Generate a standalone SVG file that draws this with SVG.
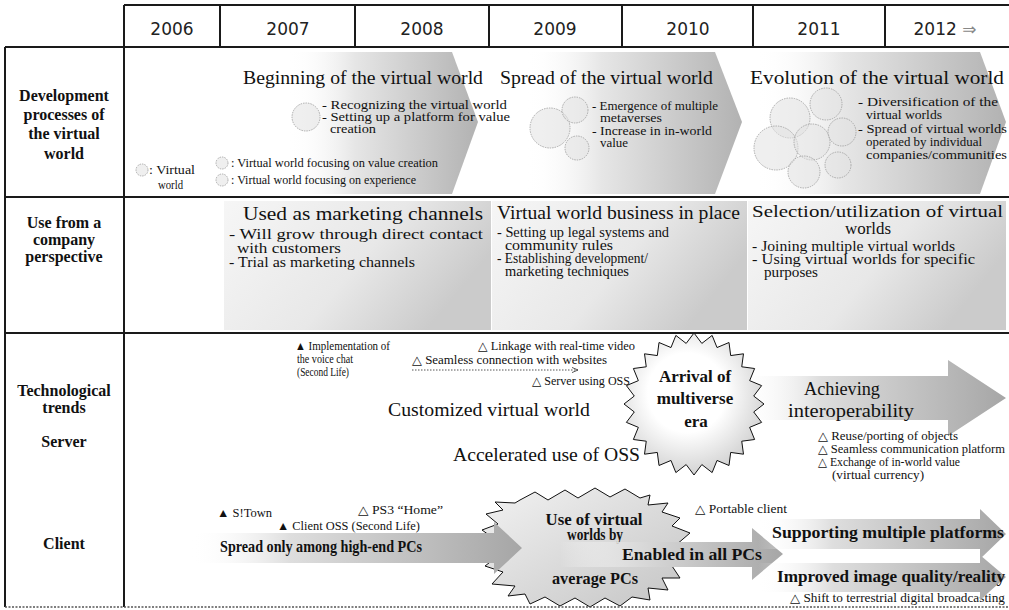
<svg xmlns="http://www.w3.org/2000/svg" width="1009" height="610" viewBox="0 0 1009 610">
<defs>
  <linearGradient id="gChev" x1="0" y1="0" x2="1" y2="0">
    <stop offset="0" stop-color="#ffffff" stop-opacity="0"/>
    <stop offset="0.35" stop-color="#e6e6e6"/>
    <stop offset="1" stop-color="#b2b2b2"/>
  </linearGradient>
  <linearGradient id="gArrow" x1="0" y1="0" x2="1" y2="0">
    <stop offset="0" stop-color="#ffffff" stop-opacity="0"/>
    <stop offset="0.3" stop-color="#dedede"/>
    <stop offset="1" stop-color="#a6a6a6"/>
  </linearGradient>
  <linearGradient id="gBox" x1="0" y1="0" x2="1" y2="0.4">
    <stop offset="0" stop-color="#f6f6f6"/>
    <stop offset="0.6" stop-color="#e8e8e8"/>
    <stop offset="1" stop-color="#cbcbcb"/>
  </linearGradient>
  <radialGradient id="gStar" cx="0.45" cy="0.42" r="0.62">
    <stop offset="0.45" stop-color="#ffffff"/>
    <stop offset="1" stop-color="#cdcdcd"/>
  </radialGradient>
  <linearGradient id="gStar2" x1="0" y1="0" x2="1" y2="1">
    <stop offset="0" stop-color="#f2f2f2"/>
    <stop offset="1" stop-color="#c4c4c4"/>
  </linearGradient>
  <marker id="mTip" viewBox="0 0 8 8" refX="7" refY="4" markerWidth="7" markerHeight="7" orient="auto" markerUnits="userSpaceOnUse">
    <path d="M0,1 L7,4 L0,7" fill="none" stroke="#444" stroke-width="1"/>
  </marker>
</defs>
<style>
  .lbl { font-family: 'Liberation Serif', 'Times New Roman', serif; font-weight: bold; font-size: 16px; text-anchor: middle; fill: #111; }
  .yr { font-family: 'DejaVu Sans', sans-serif; font-size: 17px; text-anchor: middle; fill: #222; }
  .t19 { font-family: 'Liberation Serif', 'Times New Roman', serif; font-size: 19px; fill: #111; }
  .t17 { font-family: 'Liberation Serif', 'Times New Roman', serif; font-size: 17px; fill: #111; }
  .t14 { font-family: 'Liberation Serif', 'Times New Roman', serif; font-size: 14px; fill: #111; }
  .t12 { font-family: 'Liberation Serif', 'DejaVu Sans', serif; font-size: 12px; fill: #111; }
  .t11 { font-family: 'Liberation Serif', 'DejaVu Sans', serif; font-size: 11.5px; fill: #111; }
  .bd { font-family: 'Liberation Serif', 'Times New Roman', serif; font-weight: bold; font-size: 16px; fill: #111; }
  .bd17 { font-family: 'Liberation Serif', 'Times New Roman', serif; font-weight: bold; font-size: 17px; fill: #111; }
  .mid { text-anchor: middle; }
  .grid { stroke: #1a1a1a; stroke-width: 2; fill: none; }
  .bub { fill: #e2e2e2; fill-opacity: 0.55; stroke: #9a9a9a; stroke-width: 0.8; stroke-dasharray: 1.5 1; }
  .chev { fill: url(#gChev); }
  .barrow { fill: url(#gArrow); }
  .box { fill: url(#gBox); }
</style>

<!-- phase chevrons of the first row -->
<g id="phase-beginning">
  <polygon class="chev" points="288,52 452,52 478,122 452,194 288,194"/>
  <text class="t19" x="243" y="84" textLength="240" lengthAdjust="spacingAndGlyphs">Beginning of the virtual world</text>
  <circle class="bub" cx="306" cy="117" r="14"/>
  <text class="t11" x="322" y="109" textLength="185" lengthAdjust="spacingAndGlyphs">- Recognizing the virtual world</text>
  <text class="t11" x="322" y="121" textLength="188" lengthAdjust="spacingAndGlyphs">- Setting up a platform for value</text>
  <text class="t11" x="330" y="133" textLength="46" lengthAdjust="spacingAndGlyphs">creation</text>
</g>
<g id="phase-spread">
  <polygon class="chev" points="526,52 715,52 742,122 715,194 526,194"/>
  <text class="t19" x="500" y="84" textLength="213" lengthAdjust="spacingAndGlyphs">Spread of the virtual world</text>
  <circle class="bub" cx="550" cy="128" r="20"/>
  <circle class="bub" cx="575" cy="110" r="13"/>
  <circle class="bub" cx="577" cy="148" r="12"/>
  <text class="t11" x="592" y="110" textLength="126" lengthAdjust="spacingAndGlyphs">- Emergence of multiple</text>
  <text class="t11" x="600" y="122" textLength="62" lengthAdjust="spacingAndGlyphs">metaverses</text>
  <text class="t11" x="592" y="135" textLength="120" lengthAdjust="spacingAndGlyphs">- Increase in in-world</text>
  <text class="t11" x="600" y="147" textLength="28" lengthAdjust="spacingAndGlyphs">value</text>
</g>
<g id="phase-evolution">
  <polygon class="chev" points="756,52 980,52 1006,122 980,194 756,194"/>
  <text class="t19" x="750" y="84" textLength="254" lengthAdjust="spacingAndGlyphs">Evolution of the virtual world</text>
  <circle class="bub" cx="790" cy="118" r="20"/>
  <circle class="bub" cx="826" cy="104" r="16"/>
  <circle class="bub" cx="776" cy="148" r="22"/>
  <circle class="bub" cx="812" cy="142" r="18"/>
  <circle class="bub" cx="842" cy="132" r="14"/>
  <circle class="bub" cx="804" cy="172" r="16"/>
  <circle class="bub" cx="838" cy="165" r="13"/>
  <text class="t11" x="858" y="106" textLength="140" lengthAdjust="spacingAndGlyphs">- Diversification of the</text>
  <text class="t11" x="866" y="119" textLength="76" lengthAdjust="spacingAndGlyphs">virtual worlds</text>
  <text class="t11" x="858" y="133" textLength="149" lengthAdjust="spacingAndGlyphs">- Spread of virtual worlds</text>
  <text class="t11" x="866" y="146" textLength="116" lengthAdjust="spacingAndGlyphs">operated by individual</text>
  <text class="t11" x="866" y="159" textLength="141" lengthAdjust="spacingAndGlyphs">companies/communities</text>
</g>
<g id="legend">
  <circle class="bub" cx="142" cy="170" r="6"/>
  <text class="t11" x="149" y="174" textLength="46" lengthAdjust="spacingAndGlyphs">: Virtual</text>
  <text class="t11" x="158" y="189" textLength="25" lengthAdjust="spacingAndGlyphs">world</text>
  <circle class="bub" cx="222" cy="163" r="6"/>
  <circle class="bub" cx="222" cy="180" r="6"/>
  <text class="t11" x="231" y="167" textLength="207" lengthAdjust="spacingAndGlyphs">: Virtual world focusing on value creation</text>
  <text class="t11" x="231" y="184" textLength="185" lengthAdjust="spacingAndGlyphs">: Virtual world focusing on experience</text>
</g>

<!-- company-use boxes of the second row -->
<g id="use-marketing">
  <rect class="box" x="224" y="201" width="267" height="129"/>
  <text class="t19" x="243" y="220" textLength="240" lengthAdjust="spacingAndGlyphs">Used as marketing channels</text>
  <text class="t14" x="229" y="239" textLength="254" lengthAdjust="spacingAndGlyphs">- Will grow through direct contact</text>
  <text class="t14" x="237" y="253" textLength="104" lengthAdjust="spacingAndGlyphs">with customers</text>
  <text class="t14" x="229" y="267" textLength="186" lengthAdjust="spacingAndGlyphs">- Trial as marketing channels</text>
</g>
<g id="use-business">
  <rect class="box" x="492" y="201" width="255" height="129"/>
  <text class="t19" x="497" y="219" textLength="243" lengthAdjust="spacingAndGlyphs">Virtual world business in place</text>
  <text class="t14" x="497" y="237" textLength="172" lengthAdjust="spacingAndGlyphs">- Setting up legal systems and</text>
  <text class="t14" x="505" y="250" textLength="108" lengthAdjust="spacingAndGlyphs">community rules</text>
  <text class="t14" x="497" y="263" textLength="151" lengthAdjust="spacingAndGlyphs">- Establishing development/</text>
  <text class="t14" x="505" y="276" textLength="124" lengthAdjust="spacingAndGlyphs">marketing techniques</text>
</g>
<g id="use-selection">
  <rect class="box" x="748" y="201" width="258" height="129"/>
  <text class="t17" x="752" y="217" textLength="251" lengthAdjust="spacingAndGlyphs">Selection/utilization of virtual</text>
  <text class="t17" x="845" y="234" textLength="46" lengthAdjust="spacingAndGlyphs">worlds</text>
  <text class="t14" x="752" y="251" textLength="203" lengthAdjust="spacingAndGlyphs">- Joining multiple virtual worlds</text>
  <text class="t14" x="752" y="264" textLength="223" lengthAdjust="spacingAndGlyphs">- Using virtual worlds for specific</text>
  <text class="t14" x="764" y="277" textLength="54" lengthAdjust="spacingAndGlyphs">purposes</text>
</g>

<!-- server trends -->
<g id="server-notes">
  <text class="t12" x="295" y="350" textLength="95" lengthAdjust="spacingAndGlyphs">▲ Implementation of</text>
  <text class="t12" x="297" y="363" textLength="56" lengthAdjust="spacingAndGlyphs">the voice chat</text>
  <text class="t12" x="297" y="376" textLength="52" lengthAdjust="spacingAndGlyphs">(Second Life)</text>
  <text class="t12" x="478" y="350" textLength="157" lengthAdjust="spacingAndGlyphs">△ Linkage with real-time video</text>
  <text class="t12" x="412" y="364" textLength="195" lengthAdjust="spacingAndGlyphs">△ Seamless connection with websites</text>
  <text class="t12" x="532" y="385" textLength="98" lengthAdjust="spacingAndGlyphs">△ Server using OSS</text>
  <text class="t19" x="388" y="416" textLength="202" lengthAdjust="spacingAndGlyphs">Customized virtual world</text>
  <text class="t19" x="453" y="461" textLength="187" lengthAdjust="spacingAndGlyphs">Accelerated use of OSS</text>
</g>
<g id="server-interop">
  <polygon class="barrow" points="740,376 948,376 948,360 1006,398 948,436 948,420 740,420"/>
  <text class="t19" x="804" y="395" textLength="76" lengthAdjust="spacingAndGlyphs">Achieving</text>
  <text class="t19" x="788" y="417" textLength="126" lengthAdjust="spacingAndGlyphs">interoperability</text>
  <text class="t12" x="818" y="440" textLength="140" lengthAdjust="spacingAndGlyphs">△ Reuse/porting of objects</text>
  <text class="t12" x="818" y="453" textLength="187" lengthAdjust="spacingAndGlyphs">△ Seamless communication platform</text>
  <text class="t12" x="818" y="466" textLength="142" lengthAdjust="spacingAndGlyphs">△ Exchange of in-world value</text>
  <text class="t12" x="832" y="479" textLength="92" lengthAdjust="spacingAndGlyphs">(virtual currency)</text>
</g>
<g id="server-multiverse">
  <polygon transform="translate(694,404) scale(70,71)" fill="url(#gStar)" stroke="#111" stroke-width="1" vector-effect="non-scaling-stroke"
    points="1,0 .853,.112 .966,.259 .795,.329 .866,.5 .682,.524 .707,.707 .524,.682 .5,.866 .329,.795 .259,.966 .112,.853 0,1 -.112,.853 -.259,.966 -.329,.795 -.5,.866 -.524,.682 -.707,.707 -.682,.524 -.866,.5 -.795,.329 -.966,.259 -.853,.112 -1,0 -.853,-.112 -.966,-.259 -.795,-.329 -.866,-.5 -.682,-.524 -.707,-.707 -.524,-.682 -.5,-.866 -.329,-.795 -.259,-.966 -.112,-.853 0,-1 .112,-.853 .259,-.966 .329,-.795 .5,-.866 .524,-.682 .707,-.707 .682,-.524 .866,-.5 .795,-.329 .966,-.259 .853,-.112"/>
  <text class="bd17 mid" x="695" y="382">Arrival of</text>
  <text class="bd17 mid" x="695" y="404">multiverse</text>
  <text class="bd17 mid" x="696" y="427">era</text>
</g>

<!-- client trends -->
<g id="client-notes">
  <text class="t12" x="217" y="517" textLength="55" lengthAdjust="spacingAndGlyphs">▲ S!Town</text>
  <text class="t12" x="358" y="514" textLength="85" lengthAdjust="spacingAndGlyphs">△ PS3 “Home”</text>
  <text class="t12" x="277" y="530" textLength="143" lengthAdjust="spacingAndGlyphs">▲ Client OSS (Second Life)</text>
  <text class="t12" x="695" y="513" textLength="92" lengthAdjust="spacingAndGlyphs">△ Portable client</text>
  <text class="t12" x="790" y="602" textLength="215" lengthAdjust="spacingAndGlyphs">△ Shift to terrestrial digital broadcasting</text>
</g>
<g id="client-average">
  <polygon fill="url(#gStar2)" stroke="#111" stroke-width="1"
    points="520,500 535,492 548,500 565,490 578,498 595,488 610,497 625,489 640,498 650,495 648,505 668,503 662,512 680,518 672,526 690,533 676,545 688,560 672,566 680,578 662,578 668,590 648,588 650,600 632,597 620,606 605,598 590,607 575,598 560,606 545,597 530,604 525,594 508,596 515,586 492,584 503,572 485,566 498,556 482,548 496,540 482,530 498,524 486,514 503,510 495,502 515,503"/>
  <text class="bd mid" x="594" y="525" textLength="97" lengthAdjust="spacingAndGlyphs">Use of virtual</text>
  <text class="bd mid" x="595" y="540" textLength="56" lengthAdjust="spacingAndGlyphs">worlds by</text>
  <text class="bd mid" x="595" y="584" textLength="86" lengthAdjust="spacingAndGlyphs">average PCs</text>
</g>
<g id="client-highend">
  <polygon class="barrow" points="190,533 494,533 494,522 522,548 494,574 494,563 190,563"/>
  <text class="bd" x="220" y="552" textLength="202" lengthAdjust="spacingAndGlyphs">Spread only among high-end PCs</text>
</g>
<g id="client-allpcs">
  <polygon class="barrow" points="560,542 752,542 752,528 783,554 752,580 752,567 560,567"/>
  <text class="bd" x="622" y="560" textLength="140" lengthAdjust="spacingAndGlyphs">Enabled in all PCs</text>
</g>
<g id="client-platforms">
  <polygon class="barrow" points="758,519 980,519 980,509 1006,534 980,559 980,549 758,549"/>
  <text class="bd17" x="772" y="538" textLength="232" lengthAdjust="spacingAndGlyphs">Supporting multiple platforms</text>
</g>
<g id="client-quality">
  <polygon class="barrow" points="758,563 980,563 980,555 1006,577 980,600 980,592 758,592"/>
  <text class="bd17" x="777" y="582" textLength="228" lengthAdjust="spacingAndGlyphs">Improved image quality/reality</text>
</g>

<!-- connectors -->
<g id="connectors">
  <line x1="412" y1="370" x2="578" y2="370" stroke="#555" stroke-width="1" stroke-dasharray="1.5 1.5" marker-end="url(#mTip)"/>
</g>

<!-- table frame -->
<g id="table">
  <path class="grid" d="M124,5 H1009 M5,47 H1009 M5,197 H1009 M5,333 H1009 M5,47 V607 M124,5 V607 M220,5 V47 M355,5 V47 M489,5 V47 M622,5 V47 M753,5 V47 M885,5 V47"/>
  <line x1="5" y1="607" x2="1009" y2="607" stroke="#555" stroke-width="1.5" stroke-dasharray="2 1.5"/>
  <text class="yr" x="172" y="35">2006</text>
  <text class="yr" x="288" y="35">2007</text>
  <text class="yr" x="422" y="35">2008</text>
  <text class="yr" x="555" y="35">2009</text>
  <text class="yr" x="688" y="35">2010</text>
  <text class="yr" x="819" y="35">2011</text>
  <text class="yr" x="945" y="35">2012 <tspan fill="#888">⇒</tspan></text>
  <text class="lbl" x="64" y="101">Development</text>
  <text class="lbl" x="64" y="120">processes of</text>
  <text class="lbl" x="64" y="139">the virtual</text>
  <text class="lbl" x="64" y="159">world</text>
  <text class="lbl" x="64" y="228">Use from a</text>
  <text class="lbl" x="64" y="245">company</text>
  <text class="lbl" x="64" y="262">perspective</text>
  <text class="lbl" x="64" y="396">Technological</text>
  <text class="lbl" x="64" y="413">trends</text>
  <text class="lbl" x="64" y="447">Server</text>
  <text class="lbl" x="64" y="549">Client</text>
</g>
</svg>
